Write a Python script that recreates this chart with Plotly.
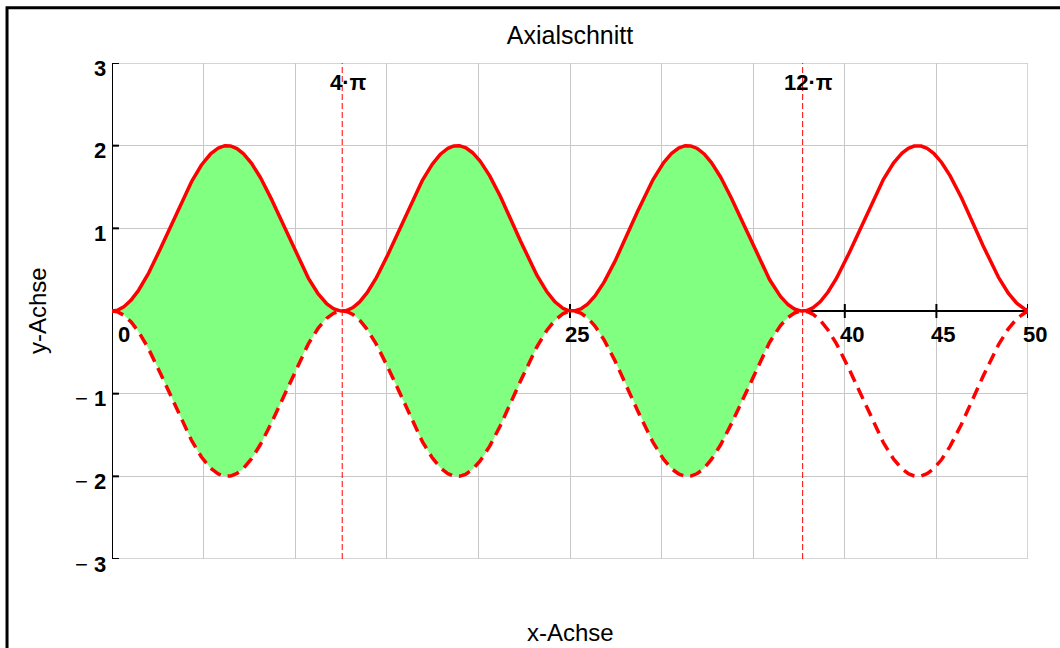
import numpy as np
import plotly.graph_objects as go

# Meridian profile of the rotation body: r(x) = 1 - cos(x / 2)
amplitude = 1.0
wave_number = 0.5
x_max = 50
x_fill_end = 12 * np.pi
marker_lines = [4 * np.pi, 12 * np.pi]
marker_labels = ["4·π", "12·π"]

x_grid_ticks = [0, 5, 10, 15, 20, 25, 30, 35, 40, 45, 50]
x_tick_labels = {0: "0", 25: "25", 40: "40", 45: "45", 50: "50"}
y_ticks = [-3, -2, -1, 0, 1, 2, 3]
y_tick_labels = {3: "<b>3</b>", 2: "<b>2</b>", 1: "<b>1</b>",
                 -1: "− <b>1</b>", -2: "− <b>2</b>", -3: "− <b>3</b>"}

x = np.linspace(0, x_max, 1201)
upper = amplitude * (1 - np.cos(wave_number * x))
lower = -upper

mask = x <= x_fill_end
xf = np.append(x[mask], x_fill_end)
uf = amplitude * (1 - np.cos(wave_number * xf))

RED = "#ff0000"
GREEN = "#80ff80"
FONT = "Liberation Sans, Arial, sans-serif"

fig = go.Figure()

# filled region between the two profile curves
fig.add_trace(go.Scatter(x=xf, y=-uf, mode="lines", line=dict(width=0),
                         hoverinfo="skip", showlegend=False))
fig.add_trace(go.Scatter(x=xf, y=uf, mode="lines", line=dict(width=0),
                         fill="tonexty", fillcolor=GREEN,
                         hoverinfo="skip", showlegend=False))

# profile curves
fig.add_trace(go.Scatter(x=x, y=upper, mode="lines",
                         line=dict(color=RED, width=3.5), showlegend=False))
fig.add_trace(go.Scatter(x=x, y=lower, mode="lines",
                         line=dict(color=RED, width=3.5, dash="12px,7px"),
                         showlegend=False))

shapes = []
# plot frame
shapes.append(dict(type="rect", xref="x", yref="y", x0=0, x1=x_max, y0=-3, y1=3,
                   line=dict(color="#c8c8c8", width=1.5), layer="between"))
# axes through the origin
shapes.append(dict(type="line", xref="x", yref="y", x0=0, x1=x_max, y0=0, y1=0,
                   line=dict(color="black", width=2), layer="between"))
shapes.append(dict(type="line", xref="x", yref="y", x0=0, x1=0, y0=-3, y1=3,
                   line=dict(color="black", width=2), layer="between"))
# tick marks crossing the axes
for xv in x_grid_ticks:
    shapes.append(dict(type="line", xref="x", yref="y", x0=xv, x1=xv, y0=-0.085, y1=0.085,
                       line=dict(color="black", width=2), layer="between"))
for yv in y_ticks:
    shapes.append(dict(type="line", xref="x", yref="y", x0=-0.27, x1=0.38, y0=yv, y1=yv,
                       line=dict(color="black", width=2), layer="between"))
# marker lines
for xm in marker_lines:
    shapes.append(dict(type="line", xref="x", yref="y", x0=xm, x1=xm, y0=-3, y1=3,
                       line=dict(color=RED, width=1, dash="6px,3px"), layer="above"))
# outer frame
shapes.append(dict(type="rect", xref="paper", yref="paper",
                   x0=-0.1146, x1=1.05, y0=-0.2, y1=1.1115,
                   line=dict(color="black", width=3), layer="above"))

annotations = []
for xv, txt in x_tick_labels.items():
    annotations.append(dict(x=xv, y=0, xref="x", yref="y", text=f"<b>{txt}</b>",
                            showarrow=False, xanchor="center", yanchor="middle",
                            xshift=12 if xv == 0 else 7, yshift=-23,
                            font=dict(family=FONT, size=22, color="black")))
for yv, txt in y_tick_labels.items():
    annotations.append(dict(x=0, y=yv, xref="x", yref="y", text=txt,
                            showarrow=False, xanchor="right", yanchor="middle",
                            xshift=-4, yshift=-5,
                            font=dict(family=FONT, size=22, color="black")))
for xm, txt in zip(marker_lines, marker_labels):
    annotations.append(dict(x=xm, y=3, xref="x", yref="y", text=f"<b>{txt}</b>",
                            showarrow=False, xanchor="center", yanchor="middle",
                            xshift=6, yshift=-19,
                            font=dict(family=FONT, size=22, color="black")))
# axis titles, positioned relative to the plot area
annotations.append(dict(x=0.5, y=(559 - 632) / 496, xref="paper", yref="paper",
                        text="x-Achse", showarrow=False, xanchor="center", yanchor="middle",
                        font=dict(family=FONT, size=24, color="black")))
annotations.append(dict(x=(37 - 112) / 916, y=(559 - 311) / 496, xref="paper", yref="paper",
                        text="y-Achse", showarrow=False, textangle=-90,
                        xanchor="center", yanchor="middle",
                        font=dict(family=FONT, size=24, color="black")))

fig.update_layout(
    width=1060, height=648,
    margin=dict(l=112, r=32, t=63, b=89),
    paper_bgcolor="white", plot_bgcolor="white",
    title=dict(text="Axialschnitt", x=570 / 1060, xanchor="center",
               y=1 - 35 / 648, yanchor="middle",
               font=dict(family=FONT, size=25, color="black")),
    xaxis=dict(range=[0, x_max], tickvals=x_grid_ticks, showticklabels=False,
               showgrid=True, gridcolor="#c8c8c8", gridwidth=1,
               zeroline=False, showline=False, ticks=""),
    yaxis=dict(range=[-3, 3], tickvals=y_ticks, showticklabels=False,
               showgrid=True, gridcolor="#c8c8c8", gridwidth=1,
               zeroline=False, showline=False, ticks=""),
    shapes=shapes, annotations=annotations,
    showlegend=False,
)

fig.write_html("out.html")
